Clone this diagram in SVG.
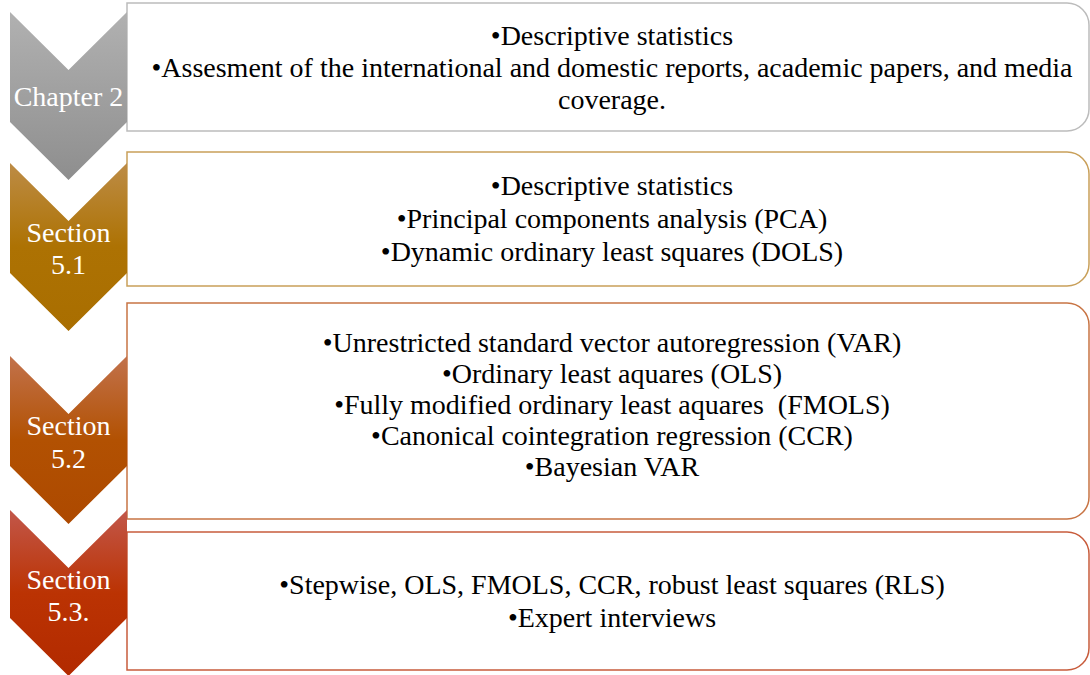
<svg xmlns="http://www.w3.org/2000/svg" width="1090" height="675" viewBox="0 0 1090 675">
<style>
.box{fill:#fff;stroke-width:1.5}
.t{font-family:"Liberation Serif","Times New Roman",serif;font-size:28px;fill:#000;text-anchor:middle}
.c{font-family:"Liberation Serif","Times New Roman",serif;font-size:28px;fill:#fff;text-anchor:middle}
</style>
<defs>
<linearGradient id="g1" x1="0" y1="0" x2="0" y2="1"><stop offset="0" stop-color="#b1b1b1"/><stop offset="1" stop-color="#8e8e8e"/></linearGradient>
<linearGradient id="g2" x1="0" y1="0" x2="0" y2="1"><stop offset="0" stop-color="#bd8c46"/><stop offset="0.5" stop-color="#ad7203"/><stop offset="1" stop-color="#a96e00"/></linearGradient>
<linearGradient id="g3" x1="0" y1="0" x2="0" y2="1"><stop offset="0" stop-color="#c2724c"/><stop offset="0.5" stop-color="#b25102"/><stop offset="1" stop-color="#ad4900"/></linearGradient>
<linearGradient id="g4" x1="0" y1="0" x2="0" y2="1"><stop offset="0" stop-color="#c2574a"/><stop offset="0.5" stop-color="#bb3303"/><stop offset="1" stop-color="#b22a00"/></linearGradient>
</defs>
<g id="connectors"></g>
<g id="box1">
<path class="box" stroke="#bcbcbc" d="M127,3 H1067 A22,22 0 0 1 1089,25 V109 A22,22 0 0 1 1067,131 H127 Z"/>
<text class="t" x="612" y="45">•Descriptive statistics</text>
<text class="t" x="612" y="77">•Assesment of the international and domestic reports, academic papers, and media</text>
<text class="t" x="612" y="109">coverage.</text>
</g>
<g id="box2">
<path class="box" stroke="#c9a05a" d="M127,152 H1067 A22,22 0 0 1 1089,174 V264 A22,22 0 0 1 1067,286 H127 Z"/>
<text class="t" x="612" y="195">•Descriptive statistics</text>
<text class="t" x="612" y="228">•Principal components analysis (PCA)</text>
<text class="t" x="612" y="261">•Dynamic ordinary least squares (DOLS)</text>
</g>
<g id="box3">
<path class="box" stroke="#c87444" d="M127,303 H1067 A22,22 0 0 1 1089,325 V497 A22,22 0 0 1 1067,519 H127 Z"/>
<text class="t" x="612" y="352">•Unrestricted standard vector autoregression (VAR)</text>
<text class="t" x="612" y="383">•Ordinary least aquares (OLS)</text>
<text class="t" x="612" y="414" xml:space="preserve">•Fully modified ordinary least aquares  (FMOLS)</text>
<text class="t" x="612" y="445">•Canonical cointegration regression (CCR)</text>
<text class="t" x="612" y="476">•Bayesian VAR</text>
</g>
<g id="box4">
<path class="box" stroke="#c85c3c" d="M127,532 H1067 A22,22 0 0 1 1089,554 V648 A22,22 0 0 1 1067,670 H127 Z"/>
<text class="t" x="612" y="594">•Stepwise, OLS, FMOLS, CCR, robust least squares (RLS)</text>
<text class="t" x="612" y="627">•Expert interviews</text>
</g>
<g id="chev1">
<path fill="url(#g1)" d="M10,12 L68.5,70 L127,12 V122 L68.5,180 L10,122 Z"/>
<text class="c" x="68.5" y="106">Chapter 2</text>
</g>
<g id="chev2">
<path fill="url(#g2)" d="M10,163 L68.5,221 L127,163 V273 L68.5,331 L10,273 Z"/>
<text class="c" x="68.5" y="242">Section</text>
<text class="c" x="68.5" y="274">5.1</text>
</g>
<g id="chev3">
<path fill="url(#g3)" d="M10,356 L68.5,414 L127,356 V466 L68.5,524 L10,466 Z"/>
<text class="c" x="68.5" y="435">Section</text>
<text class="c" x="68.5" y="468">5.2</text>
</g>
<g id="chev4">
<path fill="url(#g4)" d="M10,510 L68.5,568 L127,510 V618 L68.5,676 L10,618 Z"/>
<text class="c" x="68.5" y="589">Section</text>
<text class="c" x="68.5" y="621">5.3.</text>
</g>
</svg>
